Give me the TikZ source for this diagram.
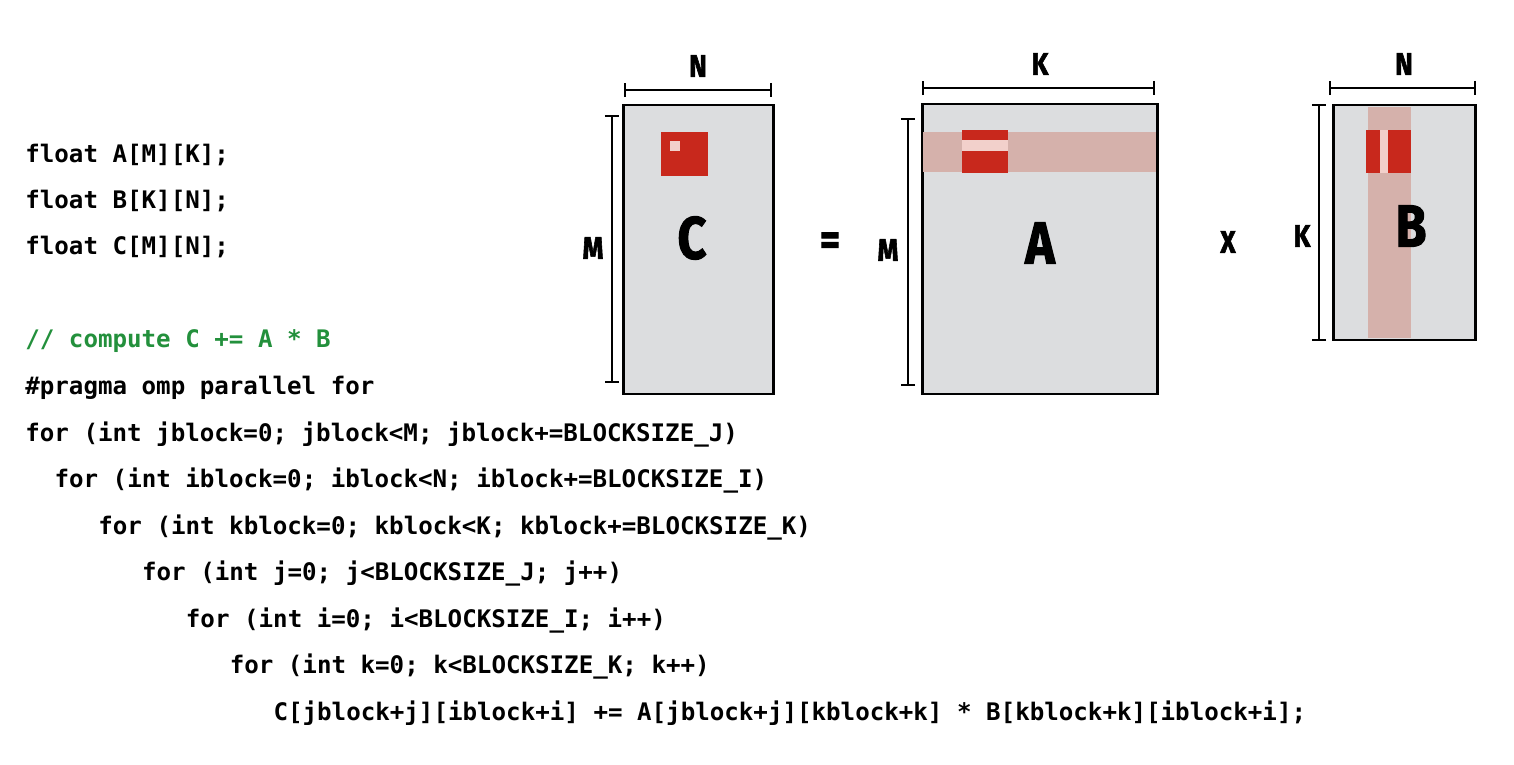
\documentclass[tikz,border=0pt]{standalone}
\usepackage{fontspec}
\usepackage{xcolor}
\usepackage{tikz}
\usetikzlibrary{arrows.meta}
\newfontfamily\codefont{DejaVu Sans Mono}
\newfontfamily\lblfont[FakeStretch=0.84,FakeBold=1.8]{Fira Sans}
\definecolor{matgray}{HTML}{DCDDDF}
\definecolor{blkred}{HTML}{C8281C}
\definecolor{bandred}{HTML}{D5B1AB}
\definecolor{palered}{HTML}{F2D0CB}
\definecolor{cmtgreen}{HTML}{23903C}

\begin{document}
\begin{tikzpicture}[x=0.02cm,y=-0.02cm,
code/.style={anchor=base west,inner sep=0pt,font=\codefont\bfseries\fontsize{13.75}{16}\selectfont},
dimlbl/.style={inner sep=0pt,font=\lblfont\bfseries\fontsize{18}{20}\selectfont},
biglbl/.style={inner sep=0pt,font=\lblfont\bfseries\fontsize{34}{36}\selectfont},
mat/.style={draw=black,fill=matgray,line width=1.7pt},
dim/.style={line width=1.1pt,{Bar[width=8pt]}-{Bar[width=8pt]}}]
\useasboundingbox (0,0) rectangle (1514,764);
% code
\node[code] (decA) at (25,162) {float A[M][K];};
\node[code] (decB) at (25,208) {float B[K][N];};
\node[code] (decC) at (25,254) {float C[M][N];};
\node[code,text=cmtgreen] (cmt) at (25,347) {// compute C += A * B};
\node[code] (prg) at (25,394) {\#pragma omp parallel for};
\node[code] (loopj) at (25,441) {for (int jblock=0; jblock<M; jblock+=BLOCKSIZE\_J)};
\node[code] (loopi) at (54.2,487) {for (int iblock=0; iblock<N; iblock+=BLOCKSIZE\_I)};
\node[code] (loopk) at (98,534) {for (int kblock=0; kblock<K; kblock+=BLOCKSIZE\_K)};
\node[code] (innj) at (141.8,580) {for (int j=0; j<BLOCKSIZE\_J; j++)};
\node[code] (inni) at (185.6,627) {for (int i=0; i<BLOCKSIZE\_I; i++)};
\node[code] (innk) at (229.4,673) {for (int k=0; k<BLOCKSIZE\_K; k++)};
\node[code] (body) at (273.2,720) {C[jblock+j][iblock+i] += A[jblock+j][kblock+k] * B[kblock+k][iblock+i];};
% matrix C
\draw[mat] (623.5,105) rectangle (773,394);
\fill[blkred] (661,132) rectangle (708,176);
\fill[palered] (670,141) rectangle (680,151);
\draw[dim] (624,90) -- (772,90);
\draw[dim] (612,115) -- (612,383);
\node[dimlbl] (lblCN) at (698,66) {N};
\node[dimlbl] (lblCM) at (593,248) {M};
\node[biglbl] (lblC) at (692,238) {C};
\node[dimlbl,font=\lblfont\bfseries\fontsize{26}{28}\selectfont] (eq) at (830,244) {=};
% matrix A
\draw[mat] (922,104) rectangle (1157,394);
\fill[bandred] (923,132) rectangle (1156,172);
\fill[blkred] (962,130) rectangle (1008,173);
\fill[palered] (962,140) rectangle (1008,151);
\draw[dim] (922,88) -- (1155,88);
\draw[dim] (908,118) -- (908,386);
\node[dimlbl] (lblAK) at (1040,64) {K};
\node[dimlbl] (lblAM) at (888,250) {M};
\node[biglbl] (lblA) at (1040,243) {A};
\node[dimlbl] (times) at (1228,242) {X};
% matrix B
\draw[mat] (1333,105) rectangle (1475,340);
\fill[bandred] (1368,107) rectangle (1411,338);
\fill[blkred] (1366,130) rectangle (1411,173);
\fill[palered] (1380,130) rectangle (1388,173);
\draw[dim] (1329,88) -- (1476,88);
\draw[dim] (1319,104) -- (1319,341);
\node[dimlbl] (lblBN) at (1404,64) {N};
\node[dimlbl] (lblBK) at (1302,236) {K};
\node[biglbl] (lblB) at (1411,226) {B};
\end{tikzpicture}
\end{document}
